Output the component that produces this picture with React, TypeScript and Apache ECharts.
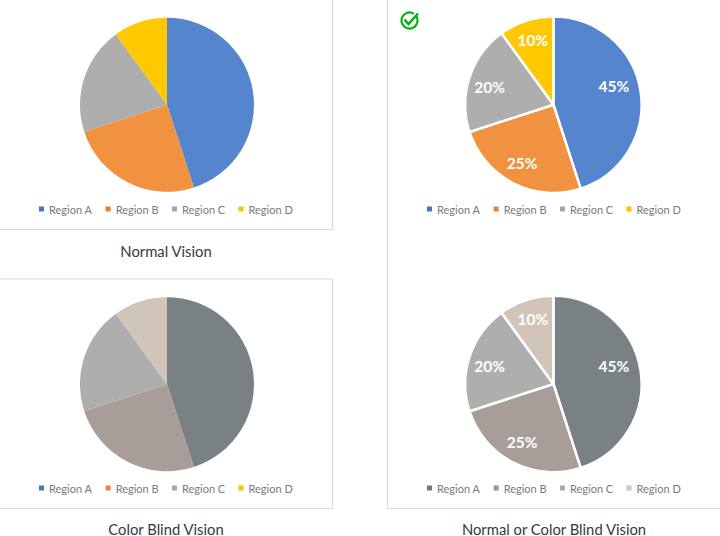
import React, { useEffect, useRef } from "react";
import * as echarts from "echarts";

const regions = ["Region A", "Region B", "Region C", "Region D"];
const shares = [45, 25, 20, 10];
const normalColors = ["#5585cc", "#f19240", "#aeaeae", "#ffc800"];
const blindColors = ["#7a8184", "#a99d9a", "#aeaeae", "#d1c5b9"];
const normalKeys = ["#4a76bd", "#ed7d31", "#a5a5a5", "#ffc000"];
const blindKeys = ["#6e7477", "#a3938f", "#a9a9a9", "#d1c5b9"];
const captions = ["Normal Vision", "Color Blind Vision", "Normal or Color Blind Vision"];

const labelOffsets = [[14, -11], [-10, 16], [-19, -3], [-6, -20]];
const FONT = "Lato";

const panels = [
  { cx: 167, cy: 104.8, r: 87, colors: normalColors, keys: normalKeys, labels: false, legendX: 39, legendY: 203.5 },
  { cx: 553.4, cy: 104.7, r: 88.2, colors: normalColors, keys: normalKeys, labels: true, legendX: 427, legendY: 203.5 },
  { cx: 167, cy: 384.2, r: 87, colors: blindColors, keys: normalKeys, labels: false, legendX: 39, legendY: 482.5 },
  { cx: 553.4, cy: 384, r: 88.2, colors: blindColors, keys: blindKeys, labels: true, legendX: 427, legendY: 482.5 },
];

function frame(x: number, y: number, width: number, height: number) {
  return {
    type: "rect",
    silent: true,
    z: -1,
    shape: { x, y, width, height },
    style: { fill: "#fff", stroke: "#d9d9d9", lineWidth: 1 },
  };
}

function buildOption() {
  return {
    animation: false,
    backgroundColor: "#fff",
    title: [
      { text: captions[0], left: 166, top: 243 },
      { text: captions[1], left: 166, top: 521 },
      { text: captions[2], left: 554, top: 521 },
    ].map((t) => ({
      ...t,
      textAlign: "center",
      padding: 0,
      textStyle: { fontFamily: "Lato", fontSize: 14.8, lineHeight: 15, fontWeight: "normal", color: "#333a40" },
    })),
    legend: panels.map((p) => ({
      left: p.legendX,
      top: p.legendY,
      padding: 0,
      orient: "horizontal",
      icon: "rect",
      itemWidth: 5,
      itemHeight: 5,
      itemGap: 13.3,
      selectedMode: false,
      textStyle: { fontFamily: FONT, fontSize: 11, color: "#7a7a7a" },
      data: regions.map((name, i) => ({ name, itemStyle: { color: p.keys[i] } })),
    })),
    series: panels.map((p) => ({
      type: "pie",
      center: [p.cx, p.cy],
      radius: [0, p.r],
      startAngle: 90,
      clockwise: true,
      silent: true,
      labelLine: { show: false },
      label: { show: false },
      data: regions.map((name, i) => ({
        name,
        value: shares[i],
        itemStyle: {
          color: p.colors[i],
          borderColor: "#fff",
          borderWidth: p.labels ? 2.5 : 0,
        },
        label: {
          show: p.labels,
          position: "inside",
          formatter: "{c}%",
          offset: labelOffsets[i],
          color: "#fff",
          fontFamily: FONT,
          fontWeight: "bold",
          fontSize: 15.5,
        },
      })),
    })),
    graphic: [
      frame(-1, -1, 333.5, 230.5),
      frame(-1, 279, 333.5, 229.5),
      frame(387.5, -1, 334, 509.5),
      {
        type: "arc",
        silent: true,
        shape: { cx: 409.5, cy: 20.5, r: 8, startAngle: -0.6, endAngle: -1.0, clockwise: true },
        style: { fill: "none", stroke: "#08b414", lineWidth: 2.2 },
      },
      {
        type: "polyline",
        silent: true,
        shape: { points: [[404.5, 19.5], [408.5, 24], [418, 13.5]] },
        style: { fill: "none", stroke: "#08b414", lineWidth: 2.6 },
      },
    ],
  };
}

export default function App() {
  const ref = useRef<HTMLDivElement>(null);
  useEffect(() => {
    const chart = echarts.init(ref.current!, undefined, { renderer: "svg" });
    chart.setOption(buildOption() as any);
    return () => chart.dispose();
  }, []);
  return (
    <div
      ref={ref}
      style={{ position: "fixed", left: 0, top: 0, width: 720, height: 536, background: "#fff" }}
    />
  );
}
